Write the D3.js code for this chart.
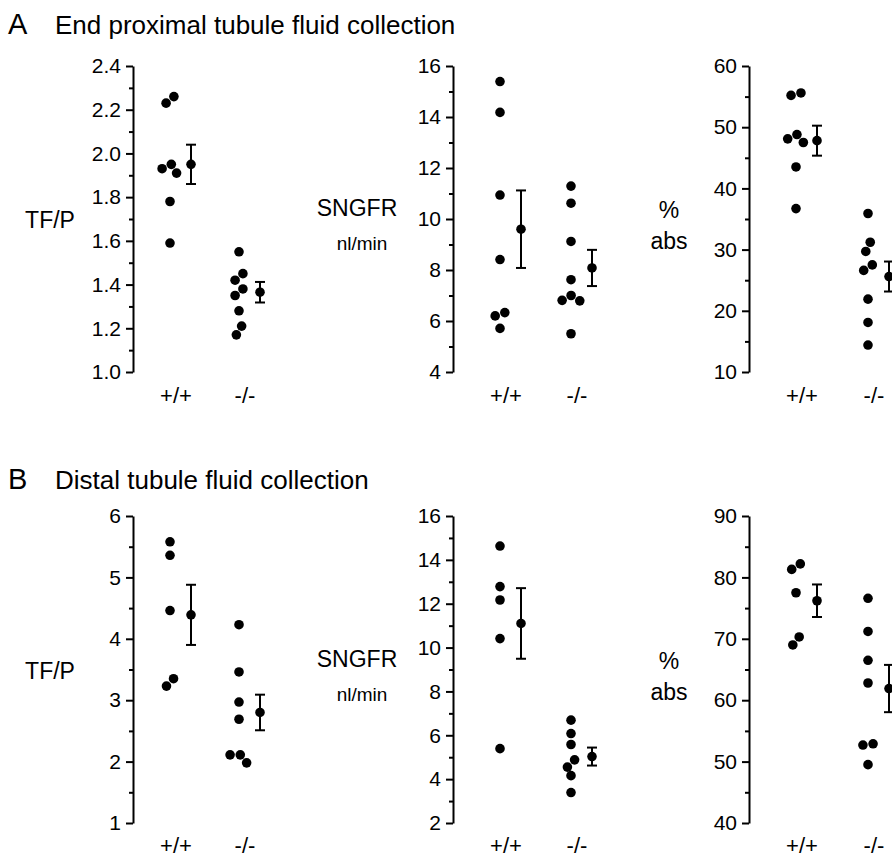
<!DOCTYPE html>
<html>
<head>
<meta charset="utf-8">
<script src="https://cdn.jsdelivr.net/npm/d3@7"></script>
<style>
  body { margin: 0; background: #fff; }
  svg text { font-family: "Liberation Sans", Arial, Helvetica, sans-serif; fill: #000; }
</style>
</head>
<body>
<div id="chart"></div>
<script>
// groups
const genotypes = ["+/+", "-/-"];

// A: end proximal tubule fluid collection
const proxTFP_wt = [2.23, 2.26, 1.95, 1.91, 1.93, 1.78, 1.59];
const proxTFP_ko = [1.55, 1.45, 1.42, 1.38, 1.35, 1.28, 1.21, 1.17];
const proxTFP_mean = [1.95, 1.365];
const proxTFP_sem = [0.09, 0.047];
const proxTFP_ticks = [1.0, 1.2, 1.4, 1.6, 1.8, 2.0, 2.2, 2.4];

const proxSNGFR_wt = [15.39, 14.18, 10.94, 8.41, 6.2, 6.33, 5.71];
const proxSNGFR_ko = [11.29, 10.62, 9.12, 7.62, 6.79, 7.0, 6.81, 5.5];
const proxSNGFR_mean = [9.6, 8.08];
const proxSNGFR_sem = [1.52, 0.71];
const proxSNGFR_ticks = [4, 6, 8, 10, 12, 14, 16];

const proxAbs_wt = [55.6, 55.2, 48.1, 47.5, 48.8, 43.5, 36.7];
const proxAbs_ko = [35.9, 31.2, 29.7, 27.5, 26.6, 21.9, 18.1, 14.4];
const proxAbs_mean = [47.8, 25.6];
const proxAbs_sem = [2.45, 2.45];
const proxAbs_ticks = [10, 20, 30, 40, 50, 60];

// B: distal tubule fluid collection
const distTFP_wt = [5.58, 5.36, 4.46, 3.35, 3.23];
const distTFP_ko = [4.23, 3.46, 2.97, 2.69, 2.11, 2.11, 1.98];
const distTFP_mean = [4.39, 2.8];
const distTFP_sem = [0.49, 0.29];
const distTFP_ticks = [1, 2, 3, 4, 5, 6];

const distSNGFR_wt = [14.63, 12.78, 12.17, 10.41, 5.39];
const distSNGFR_ko = [6.69, 6.08, 5.58, 4.88, 4.55, 4.16, 3.39];
const distSNGFR_mean = [11.1, 5.03];
const distSNGFR_sem = [1.61, 0.41];
const distSNGFR_ticks = [2, 4, 6, 8, 10, 12, 14, 16];

const distAbs_wt = [82.2, 81.3, 77.5, 70.3, 69.0];
const distAbs_ko = [76.6, 71.2, 66.5, 62.8, 52.7, 52.9, 49.5];
const distAbs_mean = [76.2, 61.9];
const distAbs_sem = [2.65, 3.85];
const distAbs_ticks = [40, 50, 60, 70, 80, 90];

const W = 892, H = 858;
const R = 4.8;

const svg = d3.select("#chart")
    .append("svg")
        .attr("width", W)
        .attr("height", H);

svg.append("rect").attr("width", W).attr("height", H).attr("fill", "#fff");

const rows = [
    { letter: "A", title: "End proximal tubule fluid collection", ty: 34, top: 66, bottom: 372 },
    { letter: "B", title: "Distal tubule fluid collection", ty: 489, top: 516, bottom: 823 }
];

const axisX = [133, 453, 749];
const colOffsets = [[37, 106], [47, 118], [47, 119]];

const labelSets = [
    [{ text: "TF/P", dy: 9, size: 23, x: 50 }],
    [{ text: "SNGFR", dy: -3, size: 23, x: 357 }, { text: "nl/min", dy: 31, size: 19, x: 362 }],
    [{ text: "%", dy: -1, size: 23, x: 669 }, { text: "abs", dy: 30, size: 23, x: 669 }]
];

const panels = [
    { row: 0, col: 0, wt: proxTFP_wt, ko: proxTFP_ko, mean: proxTFP_mean, sem: proxTFP_sem, ticks: proxTFP_ticks, fmt: d3.format(".1f") },
    { row: 0, col: 1, wt: proxSNGFR_wt, ko: proxSNGFR_ko, mean: proxSNGFR_mean, sem: proxSNGFR_sem, ticks: proxSNGFR_ticks, fmt: d3.format("d") },
    { row: 0, col: 2, wt: proxAbs_wt, ko: proxAbs_ko, mean: proxAbs_mean, sem: proxAbs_sem, ticks: proxAbs_ticks, fmt: d3.format("d") },
    { row: 1, col: 0, wt: distTFP_wt, ko: distTFP_ko, mean: distTFP_mean, sem: distTFP_sem, ticks: distTFP_ticks, fmt: d3.format("d") },
    { row: 1, col: 1, wt: distSNGFR_wt, ko: distSNGFR_ko, mean: distSNGFR_mean, sem: distSNGFR_sem, ticks: distSNGFR_ticks, fmt: d3.format("d") },
    { row: 1, col: 2, wt: distAbs_wt, ko: distAbs_ko, mean: distAbs_mean, sem: distAbs_sem, ticks: distAbs_ticks, fmt: d3.format("d") }
];

// simple beeswarm: dodge sideways only when dots touch, then centre each cluster
const dodge = (vals, y, r) => {
    const d = 2 * r + 0.6;
    const pts = vals.map(v => ({ v, py: y(v), dx: 0 })).sort((a, b) => a.py - b.py);
    const placed = [];
    pts.forEach(p => {
        const blocks = placed
            .filter(q => Math.abs(q.py - p.py) < d)
            .map(q => {
                const w = Math.sqrt(d * d - (q.py - p.py) ** 2);
                return [q.dx - w, q.dx + w];
            });
        const cands = [0];
        blocks.forEach(b => cands.push(b[0], b[1]));
        cands.sort((a, b) => Math.abs(a) - Math.abs(b) || a - b);
        p.dx = cands.find(c => blocks.every(b => c <= b[0] + 1e-6 || c >= b[1] - 1e-6));
        placed.push(p);
    });
    // clusters of touching dots
    const group = pts.map((p, i) => i);
    const find = i => (group[i] === i ? i : (group[i] = find(group[i])));
    pts.forEach((p, i) => pts.forEach((q, j) => {
        if (j > i && Math.hypot(p.dx - q.dx, p.py - q.py) < d + 0.5) group[find(j)] = find(i);
    }));
    const sums = {};
    pts.forEach((p, i) => {
        const k = find(i);
        sums[k] = sums[k] || { s: 0, n: 0 };
        sums[k].s += p.dx; sums[k].n += 1;
    });
    pts.forEach((p, i) => { const k = find(i); p.dx -= sums[k].s / sums[k].n; });
    return pts;
};

rows.forEach(row => {
    svg.append("text")
        .attr("x", 8)
        .attr("y", row.ty)
        .attr("font-size", 29)
        .text(row.letter);
    svg.append("text")
        .attr("x", 55)
        .attr("y", row.ty)
        .attr("font-size", 26)
        .text(row.title);
});

panels.forEach(p => {
    const row = rows[p.row];
    const ax = axisX[p.col];
    const g = svg.append("g");

    const y = d3.scaleLinear()
        .domain(d3.extent(p.ticks))
        .range([row.bottom, row.top]);

    const x = d3.scalePoint()
        .domain(genotypes)
        .range([ax + colOffsets[p.col][0], ax + colOffsets[p.col][1]]);

    const step = p.ticks[1] - p.ticks[0];
    const minor = p.ticks.slice(1).map(t => t - step / 2);

    // minor ticks
    g.append("g")
        .attr("transform", `translate(${ax},0)`)
        .call(d3.axisLeft(y).tickValues(minor).tickSize(4).tickSizeOuter(0).tickFormat(""))
        .call(s => s.select(".domain").remove())
        .call(s => s.selectAll("line").attr("stroke", "#000").attr("stroke-width", 2));

    // major ticks + labels
    g.append("g")
        .attr("transform", `translate(${ax},0)`)
        .call(d3.axisLeft(y).tickValues(p.ticks).tickSize(7).tickSizeOuter(0).tickPadding(5).tickFormat(p.fmt))
        .call(s => s.select(".domain").attr("stroke", "#000").attr("stroke-width", 2))
        .call(s => s.selectAll("line").attr("stroke", "#000").attr("stroke-width", 2))
        .call(s => s.selectAll("text")
            .attr("font-size", 21)
            .attr("font-family", "Liberation Sans, Arial, sans-serif"));

    // axis title
    const mid = (row.top + row.bottom) / 2;
    labelSets[p.col].forEach(l => {
        g.append("text")
            .attr("x", l.x)
            .attr("y", mid + l.dy)
            .attr("text-anchor", "middle")
            .attr("font-size", l.size)
            .text(l.text);
    });

    // group labels
    g.selectAll(".glabel")
        .data(genotypes)
        .enter()
        .append("text")
            .attr("x", d => x(d) + 6)
            .attr("y", Math.min(row.bottom + 31, H - 5))
            .attr("text-anchor", "middle")
            .attr("font-size", 22)
            .text(d => d);

    // individual tubules
    [p.wt, p.ko].forEach((vals, gi) => {
        const cx = x(genotypes[gi]);
        g.selectAll(null)
            .data(dodge(vals, y, R))
            .enter()
            .append("circle")
                .attr("cx", d => cx + d.dx)
                .attr("cy", d => d.py)
                .attr("r", R)
                .attr("fill", "#000");
    });

    // mean +/- sem
    const mx = gn => x(gn) + 21;
    const eb = g.selectAll(".eb")
        .data(genotypes)
        .enter()
        .append("g");
    eb.append("line")
        .attr("x1", mx).attr("x2", mx)
        .attr("y1", (d, i) => y(p.mean[i] + p.sem[i]))
        .attr("y2", (d, i) => y(p.mean[i] - p.sem[i]));
    eb.append("line")
        .attr("x1", d => mx(d) - 5).attr("x2", d => mx(d) + 5)
        .attr("y1", (d, i) => y(p.mean[i] + p.sem[i]))
        .attr("y2", (d, i) => y(p.mean[i] + p.sem[i]));
    eb.append("line")
        .attr("x1", d => mx(d) - 5).attr("x2", d => mx(d) + 5)
        .attr("y1", (d, i) => y(p.mean[i] - p.sem[i]))
        .attr("y2", (d, i) => y(p.mean[i] - p.sem[i]));
    eb.selectAll("line").attr("stroke", "#000").attr("stroke-width", 2);
    eb.append("circle")
        .attr("cx", mx)
        .attr("cy", (d, i) => y(p.mean[i]))
        .attr("r", R)
        .attr("fill", "#000");
});
</script>
</body>
</html>
